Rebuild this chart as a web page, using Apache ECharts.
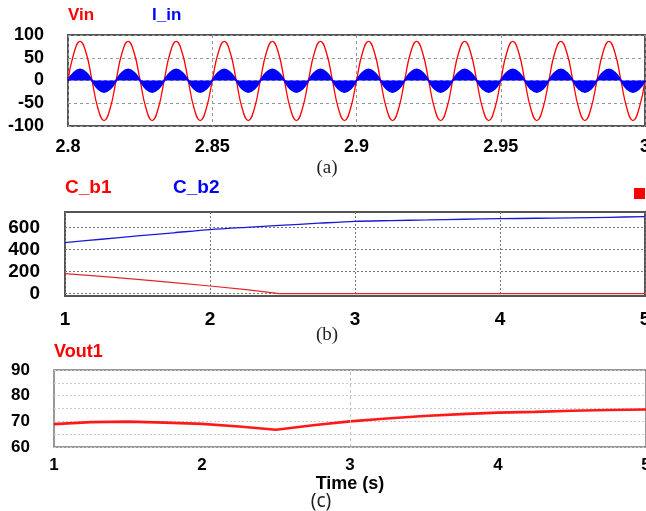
<!DOCTYPE html>
<html>
<head>
<meta charset="utf-8">
<script src="https://cdn.jsdelivr.net/npm/echarts@6/dist/echarts.min.js"></script>
<style>
html,body{margin:0;padding:0;background:#fff;}
#chart{width:646px;height:511px;}
</style>
</head>
<body>
<div id="chart"></div>
<script>
// ---------- Panel (a): Vin and I_in, 2.8 s to 3.0 s ----------
const VIN_T0 = 2.8;          // first sample time (s)
const VIN_DT = 1 / 480;      // sample spacing (s), 8 samples per 60 Hz cycle
const vinValues = [
  0, 61, 86, 61, 0, -62, -88, -62,
  0, 61, 86, 61, 0, -62, -88, -62,
  0, 61, 86, 61, 0, -62, -88, -62,
  0, 61, 86, 61, 0, -62, -88, -62,
  0, 61, 86, 61, 0, -62, -88, -62,
  0, 61, 86, 61, 0, -62, -88, -62,
  0, 61, 86, 61, 0, -62, -88, -62,
  0, 61, 86, 61, 0, -62, -88, -62,
  0, 61, 86, 61, 0, -62, -88, -62,
  0, 61, 86, 61, 0, -62, -88, -62,
  0, 61, 86, 61, 0, -62, -88, -62,
  0, 61, 86, 61, 0, -62, -88, -62,
  0
];
const iinValues = [
  0, 17, 24, 17, 0, -18, -25, -18,
  0, 17, 24, 17, 0, -18, -25, -18,
  0, 17, 24, 17, 0, -18, -25, -18,
  0, 17, 24, 17, 0, -18, -25, -18,
  0, 17, 24, 17, 0, -18, -25, -18,
  0, 17, 24, 17, 0, -18, -25, -18,
  0, 17, 24, 17, 0, -18, -25, -18,
  0, 17, 24, 17, 0, -18, -25, -18,
  0, 17, 24, 17, 0, -18, -25, -18,
  0, 17, 24, 17, 0, -18, -25, -18,
  0, 17, 24, 17, 0, -18, -25, -18,
  0, 17, 24, 17, 0, -18, -25, -18,
  0
];
const aYTicks = [-100, -50, 0, 50, 100];
const aXTicks = [2.8, 2.85, 2.9, 2.95, 3];

// ---------- Panel (b): C_b1 and C_b2, 1 s to 5 s ----------
const cbTimes = [1, 1.25, 1.5, 1.75, 2, 2.25, 2.48, 2.75, 3, 3.25, 3.5, 3.75, 4, 4.25, 4.5, 4.75, 5];
const cb1Values = [182, 157, 130, 100, 69, 36, 0, 0, 0, 0, 0, 0, 0, 0, 0, 0, 0];
const cb2Values = [464, 494, 524, 553, 582, 603, 620, 640, 657, 664, 670, 676, 681, 685, 689, 694, 700];
const bYTicks = [0, 200, 400, 600];

// ---------- Panel (c): Vout1, 1 s to 5 s ----------
const voutTimes = [1, 1.25, 1.5, 1.75, 2, 2.25, 2.5, 2.75, 3, 3.25, 3.5, 3.75, 4, 4.25, 4.5, 4.75, 5];
const voutValues = [68.9, 69.7, 69.9, 69.5, 69.0, 68.0, 66.7, 68.5, 70.0, 71.1, 72.1, 72.8, 73.4, 73.7, 74.1, 74.4, 74.6];
const cYTicks = [60, 70, 80, 90];

const zip = (xs, ys) => ys.map((v, i) => [xs[i], v]);
const vinData = vinValues.map((v, i) => [VIN_T0 + i * VIN_DT, v]);
const iinData = iinValues.map((v, i) => [VIN_T0 + i * VIN_DT, v]);

const labelFont = { color: '#000', fontWeight: 'bold', fontFamily: 'Liberation Sans, Arial, sans-serif' };

const chart = echarts.init(document.getElementById('chart'), null, { renderer: 'canvas' });
chart.setOption({
  animation: false,
  backgroundColor: '#fff',
  grid: [
    { left: 68, top: 35, right: 1, height: 91, outerBoundsMode: 'none', containLabel: false, show: true, borderColor: '#555', borderWidth: 2, backgroundColor: '#fff' },
    { left: 65, top: 212, right: 1, height: 84, outerBoundsMode: 'none', containLabel: false, show: true, borderColor: '#555', borderWidth: 2, backgroundColor: '#fff' },
    { left: 54, top: 370, right: 0, height: 77, outerBoundsMode: 'none', containLabel: false, show: true, borderColor: '#777', borderWidth: 1.5, backgroundColor: '#fff' }
  ],
  xAxis: [
    { gridIndex: 0, type: 'value', min: 2.8, max: 3, interval: 0.05,
      axisLine: { show: false }, axisTick: { show: false },
      axisLabel: Object.assign({ fontSize: 18, margin: 12, customValues: aXTicks, formatter: v => String(+v.toFixed(2)) }, labelFont),
      splitLine: { show: true, lineStyle: { color: '#999', type: [3, 3], width: 1 } } },
    { gridIndex: 1, type: 'value', min: 1, max: 5, interval: 1,
      axisLine: { show: false }, axisTick: { show: false },
      axisLabel: Object.assign({ fontSize: 19, margin: 14 }, labelFont),
      splitLine: { show: true, lineStyle: { color: '#777', type: [2, 2], width: 1 } } },
    { gridIndex: 2, type: 'value', min: 1, max: 5, interval: 1,
      axisLine: { show: false }, axisTick: { show: false },
      axisLabel: Object.assign({ fontSize: 17, margin: 10 }, labelFont),
      splitLine: { show: false },
      name: 'Time (s)', nameLocation: 'middle', nameGap: 27,
      nameTextStyle: Object.assign({ fontSize: 18 }, labelFont) }
  ],
  yAxis: [
    { gridIndex: 0, type: 'value', min: -100, max: 100, interval: 50,
      axisLine: { show: false }, axisTick: { show: false },
      axisLabel: Object.assign({ fontSize: 18, margin: 24 }, labelFont),
      splitLine: { show: true, lineStyle: { color: '#999', type: [3, 3], width: 1 } } },
    { gridIndex: 1, type: 'value', min: -22, max: 742,
      axisLine: { show: false },
      axisTick: { show: false, customValues: bYTicks },
      axisLabel: Object.assign({ fontSize: 19, margin: 25, customValues: bYTicks }, labelFont),
      splitLine: { show: true, lineStyle: { color: '#777', type: [2, 2], width: 1 } } },
    { gridIndex: 2, type: 'value', min: 60, max: 90, interval: 5,
      axisLine: { show: false }, axisTick: { show: false },
      axisLabel: Object.assign({ fontSize: 17, margin: 24, formatter: v => (cYTicks.indexOf(v) >= 0 ? String(v) : '') }, labelFont),
      splitLine: { show: true, lineStyle: { color: '#ccc', type: [2, 2], width: 1 } } }
  ],
  series: [
    { name: 'Vin', type: 'line', xAxisIndex: 0, yAxisIndex: 0, data: vinData, smooth: true,
      showSymbol: false, lineStyle: { color: '#ff0000', width: 1.3 }, z: 2 },
    { name: 'I_in', type: 'line', xAxisIndex: 0, yAxisIndex: 0, data: iinData, smooth: true,
      showSymbol: false, lineStyle: { color: '#0000ff', width: 2 },
      areaStyle: { color: '#0000ff', opacity: 1, origin: 0 }, z: 3 },
    { name: 'C_b1', type: 'line', xAxisIndex: 1, yAxisIndex: 1, data: zip(cbTimes, cb1Values),
      showSymbol: false, lineStyle: { color: '#e02828', width: 1.2 } },
    { name: 'C_b2', type: 'line', xAxisIndex: 1, yAxisIndex: 1, data: zip(cbTimes, cb2Values), smooth: 0.3,
      showSymbol: false, lineStyle: { color: '#1a1ad6', width: 1.3 } },
    { name: 'Vout1', type: 'line', xAxisIndex: 2, yAxisIndex: 2, data: zip(voutTimes, voutValues),
      showSymbol: false, lineStyle: { color: '#ff0000', width: 2.6, opacity: 0.9 },
      markLine: { silent: true, symbol: 'none', label: { show: false },
        lineStyle: { color: '#bbb', type: [3, 3], width: 1 }, data: [{ xAxis: 3 }] } }
  ],
  graphic: [
    { type: 'text', style: { text: 'Vin', x: 68, y: 15, fill: '#ff0000', font: 'bold 17px "Liberation Sans", Arial', textVerticalAlign: 'middle' } },
    { type: 'text', style: { text: 'I_in', x: 152, y: 15, fill: '#0000ff', font: 'bold 17px "Liberation Sans", Arial', textVerticalAlign: 'middle' } },
    { type: 'text', style: { text: '(a)', x: 327, y: 168, fill: '#222', font: '19px "Liberation Serif", "DejaVu Serif", serif', textAlign: 'center', textVerticalAlign: 'middle' } },
    { type: 'text', style: { text: 'C_b1', x: 65, y: 188, fill: '#ff0000', font: 'bold 19px "Liberation Sans", Arial', textVerticalAlign: 'middle' } },
    { type: 'text', style: { text: 'C_b2', x: 173, y: 188, fill: '#0000ff', font: 'bold 19px "Liberation Sans", Arial', textVerticalAlign: 'middle' } },
    { type: 'rect', shape: { x: 634, y: 188, width: 11, height: 11 }, style: { fill: '#ff0000' } },
    { type: 'text', style: { text: '(b)', x: 327, y: 335, fill: '#222', font: '19px "Liberation Serif", "DejaVu Serif", serif', textAlign: 'center', textVerticalAlign: 'middle' } },
    { type: 'text', style: { text: 'Vout1', x: 54, y: 352, fill: '#ff0000', font: 'bold 18px "Liberation Sans", Arial', textVerticalAlign: 'middle' } },
    { type: 'text', style: { text: '(c)', x: 321, y: 502, fill: '#222', font: '19px "Noto Sans", "DejaVu Sans", sans-serif', textAlign: 'center', textVerticalAlign: 'middle' } }
  ]
});
</script>
</body>
</html>
